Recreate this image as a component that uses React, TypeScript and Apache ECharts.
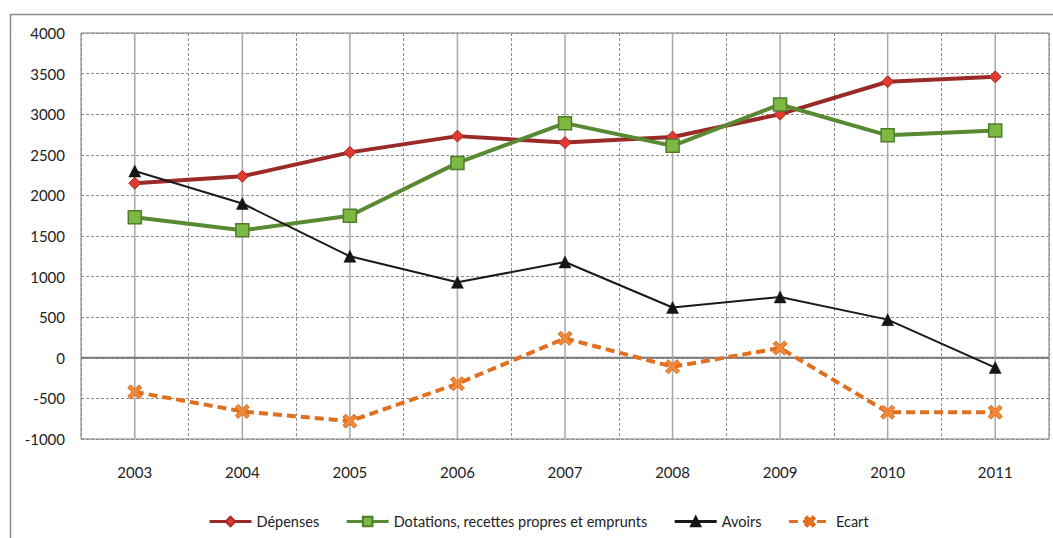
import React, { useEffect, useRef } from "react";
import * as echarts from "echarts";

const years = ["2003", "2004", "2005", "2006", "2007", "2008", "2009", "2010", "2011"];
const depenses = [2150, 2235, 2530, 2730, 2650, 2720, 3000, 3400, 3460];
const dotations = [1730, 1570, 1750, 2400, 2890, 2610, 3120, 2740, 2800];
const avoirs = [2300, 1900, 1250, 930, 1180, 620, 750, 470, -120];
const ecart = [-420, -660, -780, -320, 240, -110, 120, -670, -670];
const yTicks = { min: -1000, max: 4000, interval: 500 };

const FONT = "Lato, 'Open Sans', sans-serif";
const X_PATH =
  "path://M0,2 L2,0 L5,3 L8,0 L10,2 L7,5 L10,8 L8,10 L5,7 L2,10 L0,8 L3,5 Z";

export default function App() {
  const ref = useRef<HTMLDivElement>(null);
  useEffect(() => {
    if (!ref.current) return;
    const chart = echarts.init(ref.current, undefined, { renderer: "svg" });
    chart.setOption({
      animation: false,
      backgroundColor: "#ffffff",
      graphic: [
        {
          type: "rect",
          shape: { x: 10.5, y: 14.5, width: 1200, height: 700 },
          style: { fill: "none", stroke: "#8a8a8a", lineWidth: 1.5 },
          silent: true,
          z: -10,
        },
      ],
      grid: {
        left: 81,
        right: 4,
        top: 33,
        height: 406,
        show: true,
        borderColor: "#7a7a7a",
        borderWidth: 1,
        backgroundColor: "#ffffff",
      },
      legend: {
        top: 509,
        left: 203,
        itemWidth: 42,
        itemHeight: 12,
        itemGap: 26,
        lineStyle: { width: 3 },
        textStyle: { fontFamily: FONT, fontSize: 14.5, color: "#222" },
        data: ["Dépenses", "Dotations, recettes propres et emprunts", "Avoirs", "Ecart"],
      },
      xAxis: {
        type: "category",
        data: years,
        boundaryGap: true,
        axisLine: { show: false, onZero: false },
        axisTick: { show: false },
        axisLabel: {
          fontFamily: FONT,
          fontSize: 15,
          color: "#222",
          margin: 25,
        },
        splitLine: {
          show: true,
          interval: 0,
          lineStyle: { color: "#8c8c8c", type: [3, 2], width: 1 },
        },
      },
      yAxis: {
        type: "value",
        min: yTicks.min,
        max: yTicks.max,
        interval: yTicks.interval,
        axisLine: { show: false },
        axisTick: { show: false },
        axisLabel: {
          fontFamily: FONT,
          fontSize: 15,
          color: "#222",
          margin: 16,
          formatter: (v: number) => String(v),
        },
        splitLine: {
          show: true,
          lineStyle: { color: "#8c8c8c", type: [3, 2], width: 1 },
        },
      },
      series: [
        {
          type: "custom",
          silent: true,
          z: 1,
          data: years.map((_, i) => [i]),
          renderItem: (params: any, api: any) => {
            const cs = params.coordSys;
            const x = api.coord([api.value(0), 0])[0];
            const children: any[] = [
              {
                type: "line",
                shape: { x1: x, y1: cs.y, x2: x, y2: cs.y + cs.height },
                style: { stroke: "#a8a8a8", lineWidth: 1.5 },
              },
            ];
            if (params.dataIndex === 0) {
              const y0 = api.coord([0, 0])[1];
              children.push({
                type: "line",
                shape: { x1: cs.x, y1: y0, x2: cs.x + cs.width, y2: y0 },
                style: { stroke: "#7a7a7a", lineWidth: 2 },
              });
            }
            return { type: "group", children };
          },
        },
        {
          name: "Dépenses",
          type: "line",
          data: depenses,
          z: 5,
          symbol: "diamond",
          symbolSize: 12,
          lineStyle: { color: "#9a2a28", width: 4 },
          itemStyle: { color: "#e33a30", borderColor: "#a52a26", borderWidth: 1 },
        },
        {
          name: "Dotations, recettes propres et emprunts",
          type: "line",
          data: dotations,
          z: 6,
          symbol: "rect",
          symbolSize: 13,
          lineStyle: { color: "#578a33", width: 4 },
          itemStyle: { color: "#7db843", borderColor: "#4f7d2b", borderWidth: 1.5 },
        },
        {
          name: "Avoirs",
          type: "line",
          data: avoirs,
          z: 7,
          symbol: "triangle",
          symbolSize: 12,
          lineStyle: { color: "#1a1a1a", width: 2 },
          itemStyle: { color: "#151515", borderColor: "#151515", borderWidth: 0.5 },
        },
        {
          name: "Ecart",
          type: "line",
          data: ecart,
          z: 8,
          symbol: X_PATH,
          symbolSize: 14,
          lineStyle: { color: "#e0701f", width: 4, type: [9, 5] },
          itemStyle: { color: "#f0893a", borderColor: "#e06a18", borderWidth: 1 },
        },
      ],
    });
    return () => chart.dispose();
  }, []);
  return (
    <div
      ref={ref}
      style={{ position: "fixed", left: 0, top: 0, width: 1053, height: 538 }}
    />
  );
}
